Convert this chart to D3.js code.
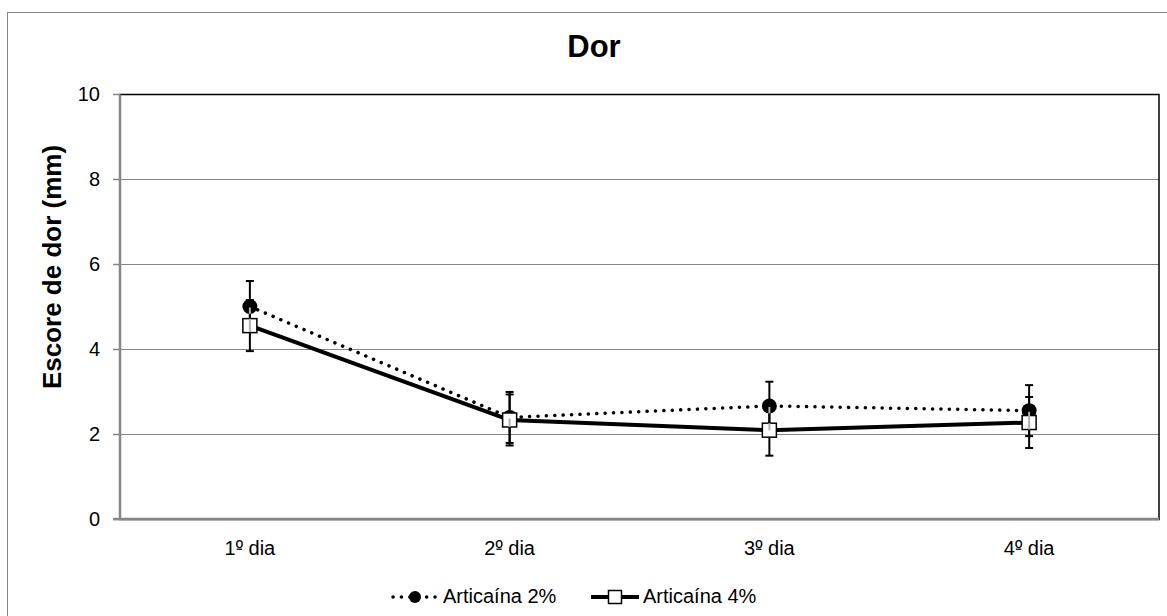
<!DOCTYPE html>
<html>
<head>
<meta charset="utf-8"/>
<title>Dor</title>
<style>
body { margin: 0; background: #fff; }
svg { font-family: "Liberation Sans", Arial, sans-serif; }
</style>
</head>
<body>
<svg width="1167" height="616"></svg>
<script src="https://d3js.org/d3.v7.min.js"></script>
<script>

var categories = ["1º dia", "2º dia", "3º dia", "4º dia"];
var art2 = [5.0, 2.39, 2.66, 2.55];
var art2Err = [0.6, 0.6, 0.57, 0.6];
var art4 = [4.55, 2.33, 2.09, 2.27];
var art4Err = [0.6, 0.6, 0.6, 0.6];
var yTicks = [0, 2, 4, 6, 8, 10];

var svg = d3.select("svg"),
    plotLeft = 120, plotRight = 1159, plotTop = 94, plotBottom = 519;

var x = d3.scaleBand().domain(categories).range([plotLeft, plotRight]);
var y = d3.scaleLinear().domain([0, 10]).range([plotBottom, plotTop]);
var cx = function(d, i) { return x(categories[i]) + x.bandwidth() / 2; };

// outer chart border (runs off the page on the right and bottom)
svg.append("rect")
    .attr("x", 7.5).attr("y", 12.5)
    .attr("width", 1300).attr("height", 700)
    .attr("fill", "none").attr("stroke", "#868686");

// title
svg.append("text")
    .attr("x", 594).attr("y", 57)
    .attr("text-anchor", "middle")
    .style("font-size", "31px").style("font-weight", "bold")
    .text("Dor");

// gridlines
svg.append("g").selectAll("line")
  .data(yTicks.filter(function(t) { return t > 0 && t < 10; }))
  .enter().append("line")
    .attr("x1", plotLeft).attr("x2", plotRight)
    .attr("y1", function(d) { return y(d) + 0.5; })
    .attr("y2", function(d) { return y(d) + 0.5; })
    .attr("stroke", "#868686").attr("stroke-width", 1);

// plot area border
svg.append("rect")
    .attr("x", plotLeft).attr("y", plotTop + 0.5)
    .attr("width", plotRight - plotLeft).attr("height", plotBottom - plotTop)
    .attr("fill", "none").attr("stroke", "#000").attr("stroke-width", 1.5);

// y axis
var yAxis = svg.append("g")
    .attr("transform", "translate(" + plotLeft + ",0)")
    .call(d3.axisLeft(y).tickValues(yTicks).tickSize(7).tickPadding(13));
yAxis.select(".domain").attr("stroke", "#868686").attr("stroke-width", 2.5)
    .attr("d", "M0," + (plotTop + 0.5) + "V" + plotBottom);
yAxis.selectAll(".tick line").attr("stroke", "#868686").attr("stroke-width", 1.5);
yAxis.selectAll(".tick text").style("font-size", "20px").attr("fill", "#000")
    .style("font-family", "Liberation Sans, Arial, sans-serif");

// x axis
var xAxis = svg.append("g")
    .attr("transform", "translate(0," + plotBottom + ")")
    .call(d3.axisBottom(x).tickSize(0).tickPadding(22));
xAxis.select(".domain").attr("stroke", "#868686").attr("stroke-width", 2.5)
    .attr("d", "M" + (plotLeft - 7) + ",0H" + plotRight);
xAxis.selectAll(".tick text").style("font-size", "20px").attr("fill", "#000")
    .style("font-family", "Liberation Sans, Arial, sans-serif");

// underline under the ordinal sign, as in the original font
xAxis.selectAll(".tick").each(function() {
  var t = d3.select(this).select("text").node();
  var bb = t.getBBox();
  var start = bb.x + t.getSubStringLength(0, 1);
  var w = t.getSubStringLength(1, 1);
  var base = 22 + 0.71 * 20;
  d3.select(this).append("line")
    .attr("x1", start + 1).attr("x2", start + w - 1)
    .attr("y1", base - 6).attr("y2", base - 6)
    .attr("stroke", "#000").attr("stroke-width", 1.3);
});

// y label
svg.append("text")
    .attr("transform", "translate(61,267) rotate(-90)")
    .attr("text-anchor", "middle")
    .style("font-size", "26px").style("font-weight", "bold")
    .text("Escore de dor (mm)");

// error bars
function errorBars(vals, errs, color) {
  var g = svg.append("g");
  vals.forEach(function(v, i) {
    var px = cx(v, i), y1 = y(v + errs[i]), y2 = y(v - errs[i]);
    g.append("line").attr("x1", px).attr("x2", px).attr("y1", y1).attr("y2", y2)
      .attr("stroke", color).attr("stroke-width", 2);
    [y1, y2].forEach(function(yy) {
      g.append("line").attr("x1", px - 4).attr("x2", px + 4).attr("y1", yy).attr("y2", yy)
        .attr("stroke", color).attr("stroke-width", 2);
    });
  });
}
errorBars(art2, art2Err, "#000");
errorBars(art4, art4Err, "#000");

var line = d3.line()
    .x(function(d, i) { return cx(d, i); })
    .y(function(d) { return y(d); });

svg.append("path").datum(art2)
    .attr("d", line).attr("fill", "none")
    .attr("stroke", "#000").attr("stroke-width", 3.5)
    .attr("stroke-linecap", "round").attr("stroke-dasharray", "0.1 8.3");

svg.append("path").datum(art4)
    .attr("d", line).attr("fill", "none")
    .attr("stroke", "#000").attr("stroke-width", 4);

// markers
svg.append("g").selectAll("circle")
  .data(art2)
  .enter().append("circle")
    .attr("cx", cx).attr("cy", function(d) { return y(d); })
    .attr("r", 7.5).attr("fill", "#000");

svg.append("g").selectAll("rect")
  .data(art4)
  .enter().append("rect")
    .attr("x", function(d, i) { return cx(d, i) - 7; })
    .attr("y", function(d) { return y(d) - 7; })
    .attr("width", 14).attr("height", 14)
    .attr("fill", "#fff").attr("stroke", "#000").attr("stroke-width", 1.5);

// the error bar shows through the markers in light grey
var clip = svg.append("clipPath").attr("id", "markers");
art2.forEach(function(v, i) {
  clip.append("circle").attr("cx", cx(v, i)).attr("cy", y(v)).attr("r", 7.5);
});
art4.forEach(function(v, i) {
  clip.append("rect").attr("x", cx(v, i) - 7).attr("y", y(v) - 7).attr("width", 14).attr("height", 14);
});
var grey = svg.append("g").attr("clip-path", "url(#markers)");
art2.forEach(function(v, i) {
  grey.append("line").attr("x1", cx(v, i)).attr("x2", cx(v, i))
    .attr("y1", y(v) + 1).attr("y2", y(v - art2Err[i]))
    .attr("stroke", "#b0b0b0").attr("stroke-width", 2);
});

// legend
var legend = svg.append("g");
legend.append("line").attr("x1", 393).attr("x2", 436).attr("y1", 597).attr("y2", 597)
    .attr("stroke", "#000").attr("stroke-width", 3.5)
    .attr("stroke-linecap", "round").attr("stroke-dasharray", "0.1 8.3");
legend.append("circle").attr("cx", 415).attr("cy", 597).attr("r", 6).attr("fill", "#000");
legend.append("text").attr("x", 443).attr("y", 603).style("font-size", "20px").text("Articaína 2%");

legend.append("line").attr("x1", 591).attr("x2", 639).attr("y1", 597).attr("y2", 597)
    .attr("stroke", "#000").attr("stroke-width", 4);
legend.append("rect").attr("x", 608.5).attr("y", 590.5).attr("width", 13).attr("height", 13)
    .attr("fill", "#fff").attr("stroke", "#000").attr("stroke-width", 1.5);
legend.append("text").attr("x", 643).attr("y", 603).style("font-size", "20px").text("Articaína 4%");

</script>
</body>
</html>
